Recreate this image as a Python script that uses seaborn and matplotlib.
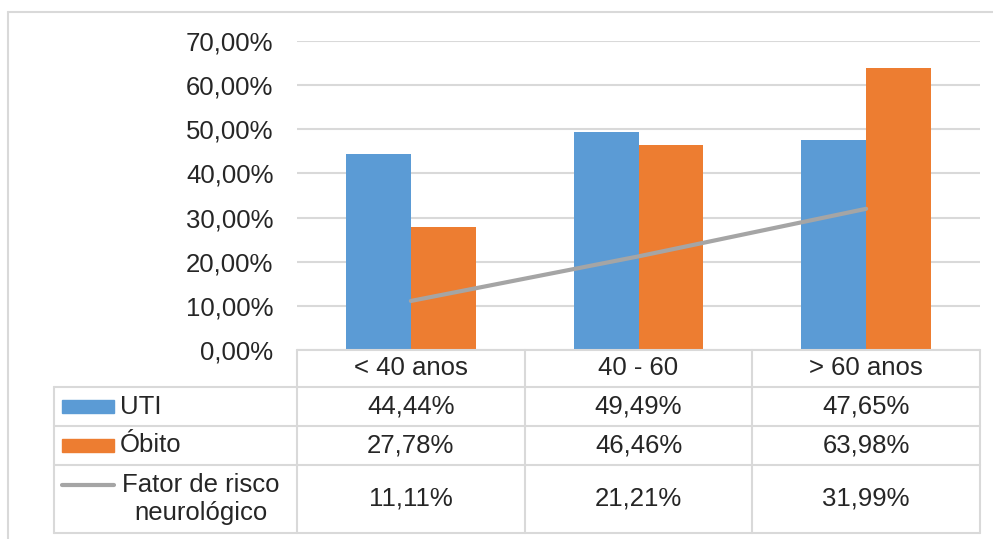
import numpy as np
import pandas as pd
import matplotlib
matplotlib.use("Agg")
import matplotlib.pyplot as plt
import seaborn as sns
from matplotlib.patches import Rectangle
from matplotlib.lines import Line2D

## Dados

faixas = ["< 40 anos", "40 - 60", "> 60 anos"]
uti = [44.44, 49.49, 47.65]
obito = [27.78, 46.46, 63.98]
risco = [11.11, 21.21, 31.99]
series = ["UTI", "Óbito"]
nome_risco = "Fator de risco\nneurológico"

azul = "#5b9bd5"
laranja = "#ed7d31"
cinza = "#a5a5a5"
borda = "#d9d9d9"

df = pd.DataFrame({
    "faixa": faixas * 2,
    "valor": uti + obito,
    "serie": [series[0]] * 3 + [series[1]] * 3,
})

def pct(v):
    return f"{v:.2f}%".replace(".", ",")

## Figura

sns.set_style("white")
plt.rcParams["font.family"] = ["Liberation Sans", "DejaVu Sans"]
fs = 18.5

fig = plt.figure(figsize=(9.93, 5.39), dpi=100)
ax = fig.add_axes([297 / 993, 1 - 350 / 539, 683 / 993, 309 / 539])

sns.barplot(data=df, x="faixa", y="valor", hue="serie", order=faixas,
            palette=[azul, laranja], width=0.571, gap=0, saturation=1,
            linewidth=0, legend=False, ax=ax)

# linha do fator de risco
ax.plot(np.arange(len(faixas)), risco, color=cinza, lw=3, solid_capstyle="round", zorder=3)

ax.set_xlim(-0.5, len(faixas) - 0.5)
ax.set_ylim(0, 70)
ax.set_yticks(range(0, 71, 10))
ax.set_yticklabels([pct(t) for t in range(0, 71, 10)], fontsize=fs)
ax.tick_params(axis="y", length=0, pad=17)
ax.set_xticks([])
ax.set_xlabel("")
ax.set_ylabel("")
ax.yaxis.grid(True, color=borda, lw=1.5)
ax.set_axisbelow(True)
sns.despine(ax=ax, left=True, bottom=True)

## Tabela de dados

tr = ax.get_xaxis_transform()
x_esq = -0.5 - (297 - 54) / 227.7
x_dir = len(faixas) - 0.5
linhas_y = [0, -0.1197, -0.246, -0.372, -0.592]

kw = dict(color=borda, lw=1.5, transform=tr, clip_on=False)
ax.add_line(Line2D([-0.5, x_dir], [0, 0], **kw))
for yy in linhas_y[1:]:
    ax.add_line(Line2D([x_esq, x_dir], [yy, yy], **kw))
for xx in np.arange(len(faixas) + 1) - 0.5:
    ax.add_line(Line2D([xx, xx], [0, linhas_y[-1]], **kw))
ax.add_line(Line2D([x_esq, x_esq], [linhas_y[1], linhas_y[-1]], **kw))

centros = [(a + b) / 2 for a, b in zip(linhas_y[:-1], linhas_y[1:])]
for i, f in enumerate(faixas):
    ax.text(i, centros[0], f, ha="center", va="center", fontsize=fs, transform=tr)
    for j, vals in enumerate([uti, obito, risco]):
        ax.text(i, centros[j + 1], pct(vals[i]), ha="center", va="center",
                fontsize=fs, transform=tr)

# legenda dentro da tabela
x_sw0 = -0.5 - (297 - 62) / 227.7
x_sw1 = -0.5 - (297 - 114) / 227.7
x_txt = -0.5 - (297 - 120) / 227.7
for j, (nome, cor) in enumerate(zip(series, [azul, laranja])):
    yc = centros[j + 1]
    ax.add_patch(Rectangle((x_sw0, yc - 0.021), x_sw1 - x_sw0, 0.042, color=cor,
                           transform=tr, clip_on=False))
    ax.text(x_txt, yc, nome, ha="left", va="center", fontsize=fs, transform=tr)

yl = -(485 - 350) / 309
ax.add_line(Line2D([x_sw0, x_sw1], [yl, yl], color=cinza, lw=3, solid_capstyle="round",
                   transform=tr, clip_on=False))
ax.text(-0.5 - 96 / 227.7, centros[3], nome_risco, ha="center", va="center",
        multialignment="center", fontsize=fs, transform=tr, linespacing=1.2)

# moldura externa
fig.add_artist(Line2D([8 / 993, 8 / 993], [0, 1 - 12 / 539], color=borda, lw=1.5))
fig.add_artist(Line2D([8 / 993, 1], [1 - 12 / 539, 1 - 12 / 539], color=borda, lw=1.5))

plt.savefig("out.png", dpi=100)
